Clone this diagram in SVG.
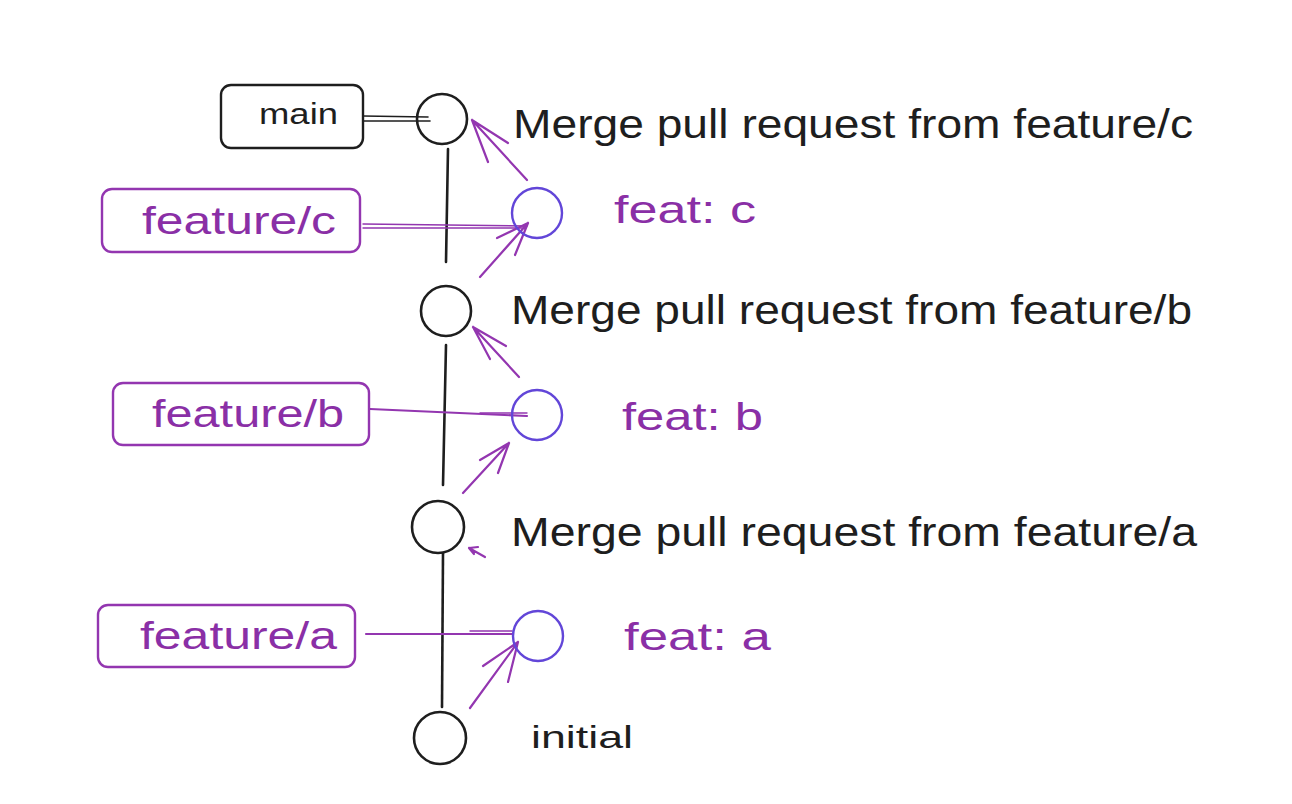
<svg xmlns="http://www.w3.org/2000/svg" width="1292" height="804" viewBox="0 0 1292 804">
  <style>
    .bg { fill: #ffffff; }
    .commit { fill: none; stroke: #1e1e1e; stroke-width: 2.6; }
    .fcommit { fill: none; stroke: #6246d8; stroke-width: 2.4; }
    .box { fill: none; stroke: #1e1e1e; stroke-width: 2.4; }
    .pbox { fill: none; stroke: #9336b0; stroke-width: 2.4; }
    .trunk { fill: none; stroke: #1e1e1e; stroke-width: 2.6; stroke-linecap: round; }
    .blk { fill: none; stroke: #1e1e1e; stroke-width: 1.6; stroke-linecap: round; }
    .pl { fill: none; stroke: #9336b0; stroke-width: 2.2; stroke-linecap: round; stroke-linejoin: round; }
    .pl2 { fill: none; stroke: #9336b0; stroke-width: 1.4; stroke-linecap: round; }
    .t { font-family: "Liberation Sans", Arial, sans-serif; fill: #1e1e1e; }
    .tp { font-family: "Liberation Sans", Arial, sans-serif; fill: #8a2fa6; }
  </style>
  <rect class="bg" x="0" y="0" width="1292" height="804"/>

  <g id="connectors">
    <!-- trunk -->
    <path class="trunk" d="M448 149 L446 262"/>
    <path class="trunk" d="M446 345 L443 485"/>
    <path class="trunk" d="M443 553 L442 707"/>
    <!-- main pointer -->
    <path class="blk" d="M363 116 L428 117"/>
    <path class="blk" d="M363 121 L430 121"/>
    <!-- feature/c pointer -->
    <path class="pl2" d="M363 224 L527 226"/>
    <path class="pl2" d="M363 228 L524 228"/>
    <!-- feature/b pointer -->
    <path class="pl" d="M370 409 L527 416"/>
    <path class="pl2" d="M480 413 L527 413"/>
    <!-- feature/a pointer -->
    <path class="pl" d="M366 634 L512 634"/>
    <path class="pl2" d="M470 631 L512 631"/>
    <!-- c -> main merge -->
    <path class="pl" d="M527 180 L472 120 M472 120 L508 143 M472 120 L488 162"/>
    <!-- merge b -> c -->
    <path class="pl" d="M480 277 L528 223 M528 223 L497 238 M528 223 L515 255"/>
    <!-- b -> merge b -->
    <path class="pl" d="M519 377 L473 327 M473 327 L506 346 M473 327 L490 359"/>
    <!-- merge a -> b -->
    <path class="pl" d="M463 493 L509 443 M509 443 L480 460 M509 443 L498 473"/>
    <!-- a -> merge a (short) -->
    <path class="pl" d="M485 557 L469 548 M469 548 L478 547 M469 548 L474 554"/>
    <!-- initial -> a -->
    <path class="pl" d="M470 708 L518 642 M518 642 L483 666 M518 642 L508 682"/>
  </g>

  <g id="commit-main">
    <circle class="commit" cx="442" cy="119" r="25"/>
    <text class="t" x="513" y="138" font-size="40" textLength="680" lengthAdjust="spacingAndGlyphs">Merge pull request from feature/c</text>
  </g>
  <g id="commit-c">
    <circle class="fcommit" cx="537" cy="213" r="25"/>
    <text class="tp" x="614" y="223" font-size="38" textLength="142" lengthAdjust="spacingAndGlyphs">feat: c</text>
  </g>
  <g id="commit-merge-b">
    <circle class="commit" cx="446" cy="311" r="25"/>
    <text class="t" x="511" y="324" font-size="40" textLength="681" lengthAdjust="spacingAndGlyphs">Merge pull request from feature/b</text>
  </g>
  <g id="commit-b">
    <circle class="fcommit" cx="537" cy="415" r="25"/>
    <text class="tp" x="622" y="430" font-size="38" textLength="141" lengthAdjust="spacingAndGlyphs">feat: b</text>
  </g>
  <g id="commit-merge-a">
    <circle class="commit" cx="438" cy="527" r="26"/>
    <text class="t" x="511" y="546" font-size="40" textLength="686" lengthAdjust="spacingAndGlyphs">Merge pull request from feature/a</text>
  </g>
  <g id="commit-a">
    <circle class="fcommit" cx="538" cy="636" r="25"/>
    <text class="tp" x="624" y="650" font-size="38" textLength="147" lengthAdjust="spacingAndGlyphs">feat: a</text>
  </g>
  <g id="commit-initial">
    <circle class="commit" cx="440" cy="738" r="26"/>
    <text class="t" x="531" y="748" font-size="32" textLength="102" lengthAdjust="spacingAndGlyphs">initial</text>
  </g>

  <g id="label-main">
    <rect class="box" x="221" y="85" width="142" height="63" rx="10"/>
    <text class="t" x="259" y="124" font-size="30" textLength="79" lengthAdjust="spacingAndGlyphs">main</text>
  </g>
  <g id="label-feature-c">
    <rect class="pbox" x="102" y="189" width="258" height="63" rx="10"/>
    <text class="tp" x="142" y="234" font-size="38" textLength="194" lengthAdjust="spacingAndGlyphs">feature/c</text>
  </g>
  <g id="label-feature-b">
    <rect class="pbox" x="113" y="383" width="256" height="62" rx="10"/>
    <text class="tp" x="152" y="427" font-size="38" textLength="192" lengthAdjust="spacingAndGlyphs">feature/b</text>
  </g>
  <g id="label-feature-a">
    <rect class="pbox" x="98" y="605" width="257" height="62" rx="10"/>
    <text class="tp" x="140" y="649" font-size="38" textLength="197" lengthAdjust="spacingAndGlyphs">feature/a</text>
  </g>
</svg>
